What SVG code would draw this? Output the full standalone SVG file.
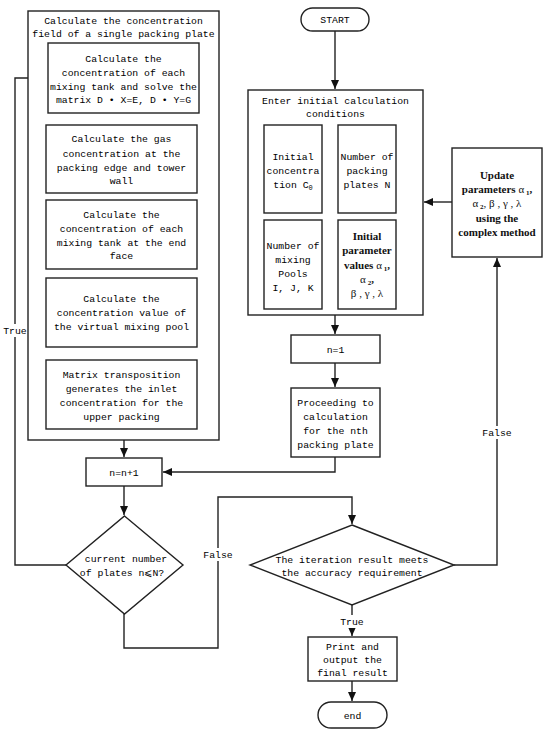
<svg xmlns="http://www.w3.org/2000/svg" width="550" height="739" viewBox="0 0 550 739">
<style>
.b{fill:#fff;stroke:#222;stroke-width:1.4}
.t{font-family:"Liberation Mono",monospace;font-size:9.8px;text-anchor:middle;fill:#000}
.s{font-family:"Liberation Serif",serif;font-weight:bold;font-size:11px;text-anchor:middle;fill:#111}
.g{font-weight:normal}
.c{fill:none;stroke:#222;stroke-width:1.4}
.sub{font-size:7px}
</style>
<defs>
<marker id="ah" markerUnits="userSpaceOnUse" markerWidth="10" markerHeight="8" refX="9" refY="4" orient="auto">
<path d="M0,0 L9,4 L0,8 z" fill="#111"/>
</marker>
</defs>
<rect width="550" height="739" fill="#fff"/>

<g id="connectors">
<path class="c" d="M335,31 V89" marker-end="url(#ah)"/>
<path class="c" d="M335,315 V334" marker-end="url(#ah)"/>
<path class="c" d="M335,363 V387" marker-end="url(#ah)"/>
<path class="c" d="M335,457 V472 H163" marker-end="url(#ah)"/>
<path class="c" d="M124,440 V457" marker-end="url(#ah)"/>
<path class="c" d="M124,486 V515" marker-end="url(#ah)"/>
<path class="c" d="M66,565 H15 V78 H47" marker-end="url(#ah)"/>
<path class="c" d="M124,614 V648 H218 V497 H352 V524" marker-end="url(#ah)"/>
<path class="c" d="M454,565 H497 V258" marker-end="url(#ah)"/>
<path class="c" d="M452,202 H424" marker-end="url(#ah)"/>
<path class="c" d="M352,605 V636" marker-end="url(#ah)"/>
<path class="c" d="M352,681 V701" marker-end="url(#ah)"/>
<rect x="3" y="324" width="24" height="13" fill="#fff"/>
<text class="t" x="15" y="334">True</text>
<rect x="203" y="548" width="30" height="13" fill="#fff"/>
<text class="t" x="218" y="558">False</text>
<rect x="482" y="426" width="30" height="13" fill="#fff"/>
<text class="t" x="497" y="436">False</text>
<rect x="340" y="615" width="24" height="13" fill="#fff"/>
<text class="t" x="352" y="625">True</text>
</g>

<g id="field">
<rect class="b" x="28" y="11" width="191" height="429"/>
<text class="t" x="123.5" y="24">Calculate the concentration</text>
<text class="t" x="123.5" y="37">field of a single packing plate</text>
</g>
<g id="box1">
<rect class="b" x="48" y="43" width="151" height="70"/>
<text class="t" x="123.5" y="62">Calculate the</text>
<text class="t" x="123.5" y="76">concentration of each</text>
<text class="t" x="123.5" y="90">mixing tank and solve the</text>
<text class="t" x="123.5" y="103">matrix D • X=E, D • Y=G</text>
</g>
<g id="box2">
<rect class="b" x="46" y="125" width="151" height="68"/>
<text class="t" x="121.5" y="142">Calculate the gas</text>
<text class="t" x="121.5" y="157">concentration at the</text>
<text class="t" x="121.5" y="171">packing edge and tower</text>
<text class="t" x="121.5" y="184">wall</text>
</g>
<g id="box3">
<rect class="b" x="46" y="200" width="151" height="69"/>
<text class="t" x="121.5" y="218">Calculate the</text>
<text class="t" x="121.5" y="232">concentration of each</text>
<text class="t" x="121.5" y="246">mixing tank at the end</text>
<text class="t" x="121.5" y="259">face</text>
</g>
<g id="box4">
<rect class="b" x="46" y="278" width="151" height="69"/>
<text class="t" x="121.5" y="302">Calculate the</text>
<text class="t" x="121.5" y="316">concentration value of</text>
<text class="t" x="121.5" y="330">the virtual mixing pool</text>
</g>
<g id="box5">
<rect class="b" x="46" y="360" width="151" height="69"/>
<text class="t" x="121.5" y="378">Matrix transposition</text>
<text class="t" x="121.5" y="392">generates the inlet</text>
<text class="t" x="121.5" y="406">concentration for the</text>
<text class="t" x="121.5" y="420">upper packing</text>
</g>

<g id="start">
<rect class="b" x="301" y="8" width="68" height="23" rx="11.5"/>
<text class="t" x="335" y="23">START</text>
</g>
<g id="enter">
<rect class="b" x="248" y="90" width="175" height="225"/>
<text class="t" x="335.5" y="104">Enter initial calculation</text>
<text class="t" x="335.5" y="117">conditions</text>
</g>
<g id="boxA">
<rect class="b" x="264" y="125" width="58" height="88"/>
<text class="t" x="293" y="160">Initial</text>
<text class="t" x="293" y="174">concentra</text>
<text class="t" x="293" y="188">tion C<tspan class="sub" dy="1.5">0</tspan></text>
</g>
<g id="boxB">
<rect class="b" x="338" y="125" width="58" height="88"/>
<text class="t" x="367" y="160">Number of</text>
<text class="t" x="367" y="174">packing</text>
<text class="t" x="367" y="188">plates N</text>
</g>
<g id="boxC">
<rect class="b" x="264" y="220" width="58" height="89"/>
<text class="t" x="293" y="249">Number of</text>
<text class="t" x="293" y="263">mixing</text>
<text class="t" x="293" y="277">Pools</text>
<text class="t" x="293" y="291">I, J, K</text>
</g>
<g id="boxD">
<rect class="b" x="338" y="220" width="58" height="89"/>
<text class="s" x="367" y="240">Initial</text>
<text class="s" x="367" y="254">parameter</text>
<text class="s" x="367" y="269">values <tspan class="g">α</tspan><tspan class="sub" dy="2"> 1</tspan><tspan dy="-2">,</tspan></text>
<text class="s" x="367" y="283"><tspan class="g">α</tspan><tspan class="sub" dy="2"> 2</tspan><tspan dy="-2">,</tspan></text>
<text class="s" x="367" y="297"><tspan class="g">β , γ , λ</tspan></text>
</g>
<g id="update">
<rect class="b" x="452" y="148" width="90" height="109"/>
<text class="s" x="497" y="179">Update</text>
<text class="s" x="497" y="193">parameters <tspan class="g">α</tspan><tspan class="sub" dy="2"> 1</tspan><tspan dy="-2">,</tspan></text>
<text class="s" x="497" y="207"><tspan class="g">α</tspan><tspan class="sub" dy="2"> 2</tspan><tspan dy="-2" class="g">, β , γ , λ</tspan></text>
<text class="s" x="497" y="222">using the</text>
<text class="s" x="497" y="236">complex method</text>
</g>
<g id="n1">
<rect class="b" x="291" y="335" width="89" height="28"/>
<text class="t" x="335.5" y="353">n=1</text>
</g>
<g id="proceed">
<rect class="b" x="291" y="388" width="89" height="69"/>
<text class="t" x="335.5" y="406">Proceeding to</text>
<text class="t" x="335.5" y="420">calculation</text>
<text class="t" x="335.5" y="434">for the nth</text>
<text class="t" x="335.5" y="448">packing plate</text>
</g>
<g id="nn1">
<rect class="b" x="86" y="458" width="76" height="28"/>
<text class="t" x="124" y="476">n=n+1</text>
</g>
<g id="dec1">
<polygon class="b" points="124.5,516 183,565 124.5,614 66,565"/>
<text class="t" x="126" y="562">current number</text>
<text class="t" x="122" y="576">of plates n⩽N?</text>
</g>
<g id="dec2">
<polygon class="b" points="352,525 454,565 352,605 250,565"/>
<text class="t" x="352" y="563">The iteration result meets</text>
<text class="t" x="352" y="576">the accuracy requirement</text>
</g>
<g id="print">
<rect class="b" x="308" y="637" width="89" height="44"/>
<text class="t" x="352.5" y="650">Print and</text>
<text class="t" x="352.5" y="663">output the</text>
<text class="t" x="352.5" y="676">final result</text>
</g>
<g id="end">
<rect class="b" x="318" y="702" width="69" height="26" rx="13"/>
<text class="t" x="352.5" y="719">end</text>
</g>
</svg>
